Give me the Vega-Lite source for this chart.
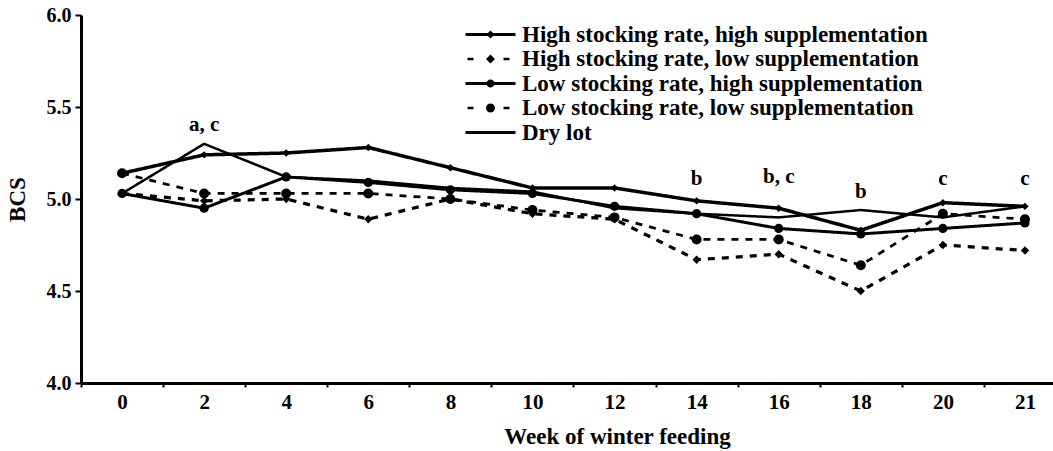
{
  "$schema": "https://vega.github.io/schema/vega-lite/v6.json",
  "width": 972,
  "height": 368,
  "autosize": {"type": "none"},
  "padding": {"left": 81, "top": 15, "right": 0, "bottom": 68},
  "background": "white",
  "config": {
    "view": {"stroke": null},
    "font": "Liberation Serif, Times New Roman, serif",
    "axis": {"grid": false, "labelColor": "black", "titleColor": "black", "labelFontWeight": "bold", "titleFontWeight": "bold", "domainColor": "black", "tickColor": "black", "labelFont": "Liberation Serif, Times New Roman, serif", "titleFont": "Liberation Serif, Times New Roman, serif"}
  },
  "datasets": {
    "bcs": [
      {"week": 0, "series": "High stocking rate, high supplementation", "bcs": 5.14},
      {"week": 2, "series": "High stocking rate, high supplementation", "bcs": 5.24},
      {"week": 4, "series": "High stocking rate, high supplementation", "bcs": 5.25},
      {"week": 6, "series": "High stocking rate, high supplementation", "bcs": 5.28},
      {"week": 8, "series": "High stocking rate, high supplementation", "bcs": 5.17},
      {"week": 10, "series": "High stocking rate, high supplementation", "bcs": 5.06},
      {"week": 12, "series": "High stocking rate, high supplementation", "bcs": 5.06},
      {"week": 14, "series": "High stocking rate, high supplementation", "bcs": 4.99},
      {"week": 16, "series": "High stocking rate, high supplementation", "bcs": 4.95},
      {"week": 18, "series": "High stocking rate, high supplementation", "bcs": 4.83},
      {"week": 20, "series": "High stocking rate, high supplementation", "bcs": 4.98},
      {"week": 21, "series": "High stocking rate, high supplementation", "bcs": 4.96},
      {"week": 0, "series": "High stocking rate, low supplementation", "bcs": 5.03},
      {"week": 2, "series": "High stocking rate, low supplementation", "bcs": 4.99},
      {"week": 4, "series": "High stocking rate, low supplementation", "bcs": 5.0},
      {"week": 6, "series": "High stocking rate, low supplementation", "bcs": 4.89},
      {"week": 8, "series": "High stocking rate, low supplementation", "bcs": 5.0},
      {"week": 10, "series": "High stocking rate, low supplementation", "bcs": 4.92},
      {"week": 12, "series": "High stocking rate, low supplementation", "bcs": 4.89},
      {"week": 14, "series": "High stocking rate, low supplementation", "bcs": 4.67},
      {"week": 16, "series": "High stocking rate, low supplementation", "bcs": 4.7},
      {"week": 18, "series": "High stocking rate, low supplementation", "bcs": 4.5},
      {"week": 20, "series": "High stocking rate, low supplementation", "bcs": 4.75},
      {"week": 21, "series": "High stocking rate, low supplementation", "bcs": 4.72},
      {"week": 0, "series": "Low stocking rate, high supplementation", "bcs": 5.03},
      {"week": 2, "series": "Low stocking rate, high supplementation", "bcs": 4.95},
      {"week": 4, "series": "Low stocking rate, high supplementation", "bcs": 5.12},
      {"week": 6, "series": "Low stocking rate, high supplementation", "bcs": 5.09},
      {"week": 8, "series": "Low stocking rate, high supplementation", "bcs": 5.05},
      {"week": 10, "series": "Low stocking rate, high supplementation", "bcs": 5.03},
      {"week": 12, "series": "Low stocking rate, high supplementation", "bcs": 4.96},
      {"week": 14, "series": "Low stocking rate, high supplementation", "bcs": 4.92},
      {"week": 16, "series": "Low stocking rate, high supplementation", "bcs": 4.84},
      {"week": 18, "series": "Low stocking rate, high supplementation", "bcs": 4.81},
      {"week": 20, "series": "Low stocking rate, high supplementation", "bcs": 4.84},
      {"week": 21, "series": "Low stocking rate, high supplementation", "bcs": 4.87},
      {"week": 0, "series": "Low stocking rate, low supplementation", "bcs": 5.14},
      {"week": 2, "series": "Low stocking rate, low supplementation", "bcs": 5.03},
      {"week": 4, "series": "Low stocking rate, low supplementation", "bcs": 5.03},
      {"week": 6, "series": "Low stocking rate, low supplementation", "bcs": 5.03},
      {"week": 8, "series": "Low stocking rate, low supplementation", "bcs": 5.0},
      {"week": 10, "series": "Low stocking rate, low supplementation", "bcs": 4.94},
      {"week": 12, "series": "Low stocking rate, low supplementation", "bcs": 4.9},
      {"week": 14, "series": "Low stocking rate, low supplementation", "bcs": 4.78},
      {"week": 16, "series": "Low stocking rate, low supplementation", "bcs": 4.78},
      {"week": 18, "series": "Low stocking rate, low supplementation", "bcs": 4.64},
      {"week": 20, "series": "Low stocking rate, low supplementation", "bcs": 4.92},
      {"week": 21, "series": "Low stocking rate, low supplementation", "bcs": 4.89},
      {"week": 0, "series": "Dry lot", "bcs": 5.03},
      {"week": 2, "series": "Dry lot", "bcs": 5.3},
      {"week": 4, "series": "Dry lot", "bcs": 5.12},
      {"week": 6, "series": "Dry lot", "bcs": 5.1},
      {"week": 8, "series": "Dry lot", "bcs": 5.06},
      {"week": 10, "series": "Dry lot", "bcs": 5.04},
      {"week": 12, "series": "Dry lot", "bcs": 4.95},
      {"week": 14, "series": "Dry lot", "bcs": 4.92},
      {"week": 16, "series": "Dry lot", "bcs": 4.9},
      {"week": 18, "series": "Dry lot", "bcs": 4.94},
      {"week": 20, "series": "Dry lot", "bcs": 4.9},
      {"week": 21, "series": "Dry lot", "bcs": 4.96}
    ],
    "annot": [
      {"week": 2, "y": 5.4, "label": "a, c"},
      {"week": 14, "y": 5.11, "label": "b"},
      {"week": 16, "y": 5.12, "label": "b, c"},
      {"week": 18, "y": 5.04, "label": "b"},
      {"week": 20, "y": 5.11, "label": "c"},
      {"week": 21, "y": 5.11, "label": "c"}
    ]
  },
  "layer": [
    {
      "data": {"name": "bcs"},
      "mark": {"type": "line", "color": "black"},
      "encoding": {
        "x": {
          "field": "week", "type": "ordinal", "bandPosition": 0.5,
          "scale": {"type": "band", "domain": [0, 2, 4, 6, 8, 10, 12, 14, 16, 18, 20, 21], "range": [0, 985], "paddingInner": 0, "paddingOuter": 0},
          "axis": {
            "title": "Week of winter feeding", "titleFontSize": 23, "titleX": 536, "titleY": 60, "titleBaseline": "alphabetic", "titleAlign": "center",
            "labelFontSize": 21, "labelAngle": 0, "labelPadding": 4, "tickBand": "extent", "tickSize": 4, "tickWidth": 2, "domainWidth": 3
          }
        },
        "y": {
          "field": "bcs", "type": "quantitative",
          "scale": {"domain": [4, 6], "zero": false, "nice": false},
          "axis": {
            "title": "BCS", "values": [4, 4.5, 5, 5.5, 6], "format": ".1f", "labelFontSize": 20, "labelPadding": 4, "tickSize": 6, "tickWidth": 2, "domainWidth": 3,
            "titleFontSize": 23, "titleX": -64, "titleY": 184, "titleAngle": -90, "titleBaseline": "middle", "titleAlign": "center"
          }
        },
        "detail": {"field": "series"},
        "strokeDash": {
          "field": "series", "type": "nominal", "legend": null,
          "scale": {
            "domain": ["High stocking rate, high supplementation", "High stocking rate, low supplementation", "Low stocking rate, high supplementation", "Low stocking rate, low supplementation", "Dry lot"],
            "range": [[1, 0], [7, 7], [1, 0], [7, 7], [1, 0]]
          }
        },
        "strokeWidth": {
          "field": "series", "type": "nominal", "legend": null,
          "scale": {
            "domain": ["High stocking rate, high supplementation", "High stocking rate, low supplementation", "Low stocking rate, high supplementation", "Low stocking rate, low supplementation", "Dry lot"],
            "range": [3.5, 2.5, 3.5, 2.5, 3.5]
          }
        }
      }
    },
    {
      "data": {"name": "bcs"},
      "transform": [{"filter": "datum.series !== 'Dry lot'"}],
      "mark": {"type": "point", "filled": true, "color": "black", "opacity": 1},
      "encoding": {
        "x": {"field": "week", "type": "ordinal", "bandPosition": 0.5},
        "y": {"field": "bcs", "type": "quantitative"},
        "shape": {
          "field": "series", "type": "nominal", "legend": null,
          "scale": {
            "domain": ["High stocking rate, high supplementation", "High stocking rate, low supplementation", "Low stocking rate, high supplementation", "Low stocking rate, low supplementation"],
            "range": ["diamond", "diamond", "circle", "circle"]
          }
        },
        "size": {
          "field": "series", "type": "nominal", "legend": null,
          "scale": {
            "domain": ["High stocking rate, high supplementation", "High stocking rate, low supplementation", "Low stocking rate, high supplementation", "Low stocking rate, low supplementation"],
            "range": [55, 100, 80, 100]
          }
        }
      }
    },
    {
      "data": {"name": "bcs"},
      "mark": {"type": "point", "filled": true, "color": "black", "opacity": 0},
      "encoding": {
        "x": {"field": "week", "type": "ordinal", "bandPosition": 0.5},
        "y": {"field": "bcs", "type": "quantitative"},
        "shape": {
          "field": "series", "type": "nominal",
          "scale": {
            "domain": ["High stocking rate, high supplementation", "High stocking rate, low supplementation", "Low stocking rate, high supplementation", "Low stocking rate, low supplementation", "Dry lot"],
            "range": [
              "M-5,-0.3H0V0.3H-5Z M0,-0.3H5V0.3H0Z M-0.8,0L0,-0.8L0.8,0L0,0.8Z",
              "M-4.6,-0.25H-3.4V0.25H-4.6Z M2.6,-0.25H3.8V0.25H2.6Z M-0.9,0L0,-0.9L0.9,0L0,0.9Z",
              "M-5,-0.3H0V0.3H-5Z M0,-0.3H5V0.3H0Z M-0.8,0A0.8,0.8,0,1,1,0.8,0A0.8,0.8,0,1,1,-0.8,0Z",
              "M-4.6,-0.25H-3.4V0.25H-4.6Z M2.6,-0.25H3.8V0.25H2.6Z M-0.9,0A0.9,0.9,0,1,1,0.9,0A0.9,0.9,0,1,1,-0.9,0Z",
              "M-5,-0.3H5V0.3H-5Z"
            ]
          },
          "legend": {
            "title": null, "orient": "none", "legendX": 398, "legendY": 8, "padding": 0,
            "symbolSize": 100, "symbolOpacity": 1, "symbolFillColor": "black", "symbolStrokeColor": "black", "symbolStrokeWidth": 0,
            "labelFont": "Liberation Serif, Times New Roman, serif", "labelFontWeight": "bold", "labelFontSize": 23, "labelColor": "black", "labelOffset": 20, "rowPadding": 0.5, "labelLimit": 600
          }
        }
      }
    },
    {
      "data": {"name": "annot"},
      "mark": {"type": "text", "font": "Liberation Serif, Times New Roman, serif", "fontWeight": "bold", "fontSize": 21, "color": "black", "baseline": "middle", "align": "center"},
      "encoding": {
        "x": {"field": "week", "type": "ordinal", "bandPosition": 0.5},
        "y": {"field": "y", "type": "quantitative"},
        "text": {"field": "label"}
      }
    },
    {
      "mark": {"type": "rule", "color": "black", "strokeWidth": 3},
      "encoding": {"y": {"datum": 6}}
    }
  ],
  "resolve": {"scale": {"shape": "independent"}, "legend": {"shape": "independent"}}
}
